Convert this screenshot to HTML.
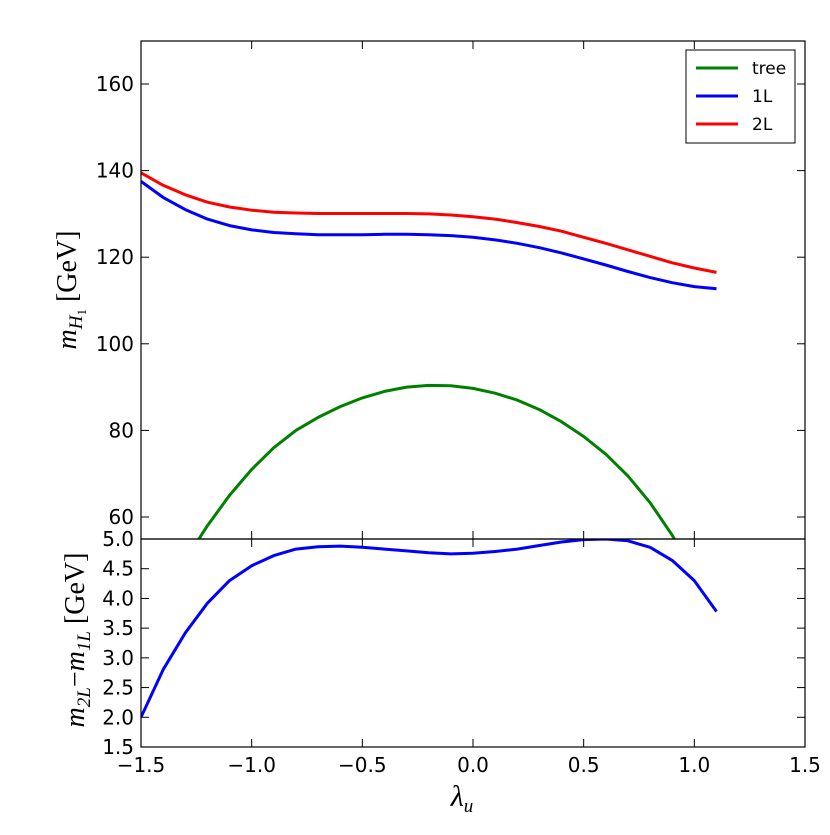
<!DOCTYPE html>
<html><head><meta charset="utf-8"><style>
body{margin:0;background:#fff;width:830px;height:830px;overflow:hidden}
#chart text{font-family:"DejaVu Sans","Liberation Sans",sans-serif;}
.serif{font-family:"Liberation Serif",serif;}
</style></head><body>
<svg id="chart" width="830" height="830" xmlns="http://www.w3.org/2000/svg"></svg>
<script>
const xs=[-1.5,-1.4,-1.3,-1.2,-1.1,-1.0,-0.9,-0.8,-0.7,-0.6,-0.5,-0.4,-0.3,-0.2,-0.1,0,0.1,0.2,0.3,0.4,0.5,0.6,0.7,0.8,0.9,1.0,1.1];
const treeVals=[38,44,50,58,65,71,76,80,83,85.5,87.5,89,90,90.4,90.3,89.7,88.6,87,84.8,82,78.6,74.5,69.5,63.3,55.8,47,37];
const oneLoopVals=[137.5,133.8,131.0,128.8,127.3,126.3,125.7,125.4,125.2,125.2,125.2,125.3,125.3,125.2,125.0,124.6,124.0,123.2,122.2,121.0,119.6,118.2,116.7,115.3,114.1,113.2,112.7];
const twoLoopVals=[139.5,136.6,134.4,132.7,131.6,130.85,130.4,130.2,130.1,130.1,130.1,130.1,130.1,130.0,129.75,129.35,128.8,128.0,127.1,126.0,124.6,123.2,121.7,120.2,118.7,117.5,116.5];
const diffVals=[2.0,2.8,3.42,3.92,4.3,4.55,4.72,4.83,4.87,4.88,4.86,4.83,4.8,4.77,4.75,4.76,4.79,4.83,4.89,4.95,4.99,5.0,4.97,4.86,4.64,4.3,3.78];
const xTicks=[-1.5,-1.0,-0.5,0.0,0.5,1.0,1.5];
const xTickLabels=["\u22121.5","\u22121.0","\u22120.5","0.0","0.5","1.0","1.5"];
const topTicks=[60,80,100,120,140,160];
const botTicks=[1.5,2.0,2.5,3.0,3.5,4.0,4.5,5.0];

const NS="http://www.w3.org/2000/svg";
const svg=document.getElementById('chart');
const L=141,R=805,T=41,M=539,B=747;
const X=v=>L+(v+1.5)/3*(R-L);
const Yt=v=>84+(160-v)*(517-84)/100;
const Yb=v=>539+(5-v)*(747-539)/3.5;
function el(tag,attrs,parent){const e=document.createElementNS(NS,tag);for(const k in attrs)e.setAttribute(k,attrs[k]);(parent||svg).appendChild(e);return e;}

const defs=el('defs',{});
const cp=el('clipPath',{id:'ctop'},defs);el('rect',{x:L,y:T,width:R-L,height:M-T},cp);
const cb=el('clipPath',{id:'cbot'},defs);el('rect',{x:L,y:M,width:R-L,height:B-M},cb);

function line(vals,Y,color,clip,name){
  const d=xs.map((x,i)=>(i?'L':'M')+X(x).toFixed(1)+','+Y(vals[i]).toFixed(1)).join(' ');
  const p=el('path',{d:d,fill:'none',stroke:color,'stroke-width':3,'clip-path':'url(#'+clip+')','stroke-linejoin':'round'});
  
  
}
line(treeVals,Yt,'#008000','ctop','tree-line');
line(oneLoopVals,Yt,'#0000ff','ctop','1l-line');
line(twoLoopVals,Yt,'#ff0000','ctop','2l-line');
line(diffVals,Yb,'#0000ff','cbot','diff-line');

const f1=el('rect',{x:L,y:T,width:R-L,height:M-T,fill:'none',stroke:'#000','stroke-width':1.2});

const f2=el('rect',{x:L,y:M,width:R-L,height:B-M,fill:'none',stroke:'#000','stroke-width':1.2});


xTicks.forEach((v,i)=>{
  const x=X(v);
  [[T,T+8],[M,M-8],[M,M+8],[B,B-8]].forEach(s=>el('line',{x1:x,x2:x,y1:s[0],y2:s[1],stroke:'#000','stroke-width':1}));
  const t=el('text',{x:x,y:B+25,'text-anchor':'middle','font-size':20});
  t.textContent=xTickLabels[i];
  
  
});
topTicks.forEach(v=>{
  const y=Yt(v);
  el('line',{x1:L,x2:L+8,y1:y,y2:y,stroke:'#000'});el('line',{x1:R,x2:R-8,y1:y,y2:y,stroke:'#000'});
  const t=el('text',{x:L-7,y:y+7,'text-anchor':'end','font-size':20});
  t.textContent=String(v);
  
  
});
botTicks.forEach(v=>{
  const y=Yb(v);
  el('line',{x1:L,x2:L+8,y1:y,y2:y,stroke:'#000'});el('line',{x1:R,x2:R-8,y1:y,y2:y,stroke:'#000'});
  const t=el('text',{x:L-7,y:y+7,'text-anchor':'end','font-size':20});
  t.textContent=v.toFixed(1);
  
  
});
</script>
<svg style="position:absolute;left:0;top:0" width="830" height="830" xmlns="http://www.w3.org/2000/svg">
<g font-family="DejaVu Sans,sans-serif">
<rect x="686" y="50" width="109" height="93" fill="#fff" stroke="#000" stroke-width="1"/>
<line x1="696" x2="738" y1="68" y2="68" stroke="#008000" stroke-width="3"/>
<text x="752" y="74" font-size="17">tree</text>
<line x1="696" x2="738" y1="96" y2="96" stroke="#0000ff" stroke-width="3"/>
<text x="752" y="102" font-size="17">1L</text>
<line x1="696" x2="738" y1="124" y2="124" stroke="#ff0000" stroke-width="3"/>
<text x="752" y="130" font-size="17">2L</text>
</g>
<text class="serif" transform="translate(76,290) rotate(-90)" text-anchor="middle" font-size="28"><tspan font-style="italic">m</tspan><tspan font-style="italic" font-size="19" dy="6">H</tspan><tspan font-size="13" dy="4">1</tspan><tspan dy="-10">  [GeV]</tspan></text>
<text class="serif" transform="translate(84,640) rotate(-90)" text-anchor="middle" font-size="28"><tspan font-style="italic">m</tspan><tspan font-style="italic" font-size="19" dy="6">2L</tspan><tspan dy="-6">−</tspan><tspan font-style="italic">m</tspan><tspan font-style="italic" font-size="19" dy="6">1L</tspan><tspan dy="-6"> [GeV]</tspan></text>
<text class="serif" x="462" y="806" text-anchor="middle" font-size="30"><tspan font-style="italic">λ</tspan><tspan font-style="italic" font-size="19" dy="6">u</tspan></text>
</svg>
</body></html>
